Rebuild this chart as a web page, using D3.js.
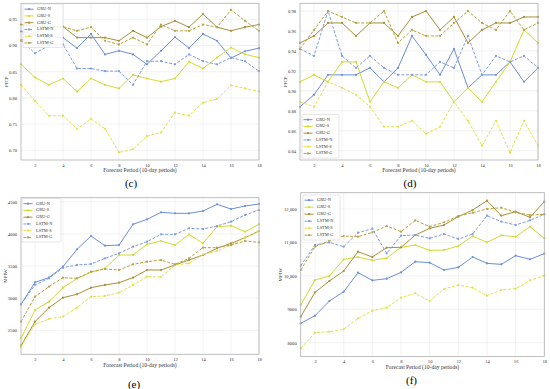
<!DOCTYPE html>
<html>
<head>
<meta charset="utf-8">
<script src="https://cdn.jsdelivr.net/npm/d3@7"></script>
<style>
  html, body { margin: 0; padding: 0; background: #fff; }
  svg { display: block; font-family: "Liberation Serif", "DejaVu Serif", serif; }
</style>
</head>
<body>
<svg id="chart" width="550" height="389"></svg>
<script>
// ---------- DATA ----------
const periods = [1,2,3,4,5,6,7,8,9,10,11,12,13,14,15,16,17,18];
const seriesNames = ["GRU-N","GRU-S","GRU-G","LSTM-N","LSTM-S","LSTM-G"];
const xTicks = [2,4,6,8,10,12,14,16,18];

// (c) PICP
const c_GRU_N  = [0.927,0.920,0.917,0.915,0.895,0.922,0.883,0.890,0.883,0.864,0.890,0.916,0.895,0.922,0.909,0.876,0.889,0.895];
const c_GRU_S  = [0.864,0.839,0.825,0.837,0.812,0.837,0.825,0.818,0.844,0.837,0.831,0.837,0.869,0.856,0.877,0.896,0.883,0.877];
const c_GRU_G  = [0.940,0.937,0.936,0.936,0.915,0.915,0.915,0.909,0.928,0.915,0.936,0.947,0.935,0.960,0.935,0.928,0.935,0.940];
const c_LSTM_N = [0.910,0.885,0.900,0.902,0.856,0.856,0.851,0.851,0.825,0.870,0.870,0.864,0.883,0.870,0.864,0.877,0.870,0.851];
const c_LSTM_S = [0.825,0.794,0.766,0.766,0.741,0.760,0.741,0.696,0.702,0.727,0.734,0.772,0.766,0.791,0.798,0.824,0.818,0.812];
const c_LSTM_G = [0.909,0.925,0.935,0.936,0.928,0.935,0.909,0.902,0.915,0.902,0.940,0.928,0.928,0.940,0.935,0.968,0.947,0.928];
const c_yTicks = [0.70,0.75,0.80,0.85,0.90,0.95];
const c_yLabels = ["0.70","0.75","0.80","0.85","0.90","0.95"];

// (d) PICP
const d_GRU_N  = [0.884,0.896,0.916,0.916,0.916,0.923,0.909,0.923,0.955,0.936,0.916,0.942,0.903,0.916,0.916,0.929,0.909,0.923];
const d_GRU_S  = [0.909,0.916,0.909,0.929,0.929,0.889,0.909,0.903,0.916,0.909,0.909,0.889,0.903,0.889,0.909,0.929,0.961,0.948];
const d_GRU_G  = [0.948,0.955,0.968,0.968,0.955,0.968,0.968,0.955,0.974,0.980,0.961,0.974,0.948,0.961,0.968,0.968,0.974,0.974];
const d_LSTM_N = [0.942,0.935,0.980,0.935,0.923,0.935,0.923,0.916,0.916,0.916,0.929,0.923,0.955,0.916,0.935,0.929,0.935,0.923];
const d_LSTM_S = [0.889,0.884,0.909,0.903,0.896,0.884,0.864,0.864,0.870,0.857,0.864,0.889,0.870,0.845,0.870,0.838,0.870,0.845];
const d_LSTM_G = [0.942,0.961,0.980,0.974,0.968,0.968,0.980,0.948,0.961,0.955,0.955,0.968,0.980,0.968,0.961,0.980,0.961,0.968];
const d_yTicks = [0.84,0.86,0.88,0.90,0.92,0.94,0.96,0.98];
const d_yLabels = ["0.84","0.86","0.88","0.90","0.92","0.94","0.96","0.98"];

// (e) MPIW
const e_GRU_N  = [2904,3246,3319,3490,3759,3966,3816,3826,4148,4225,4334,4319,4319,4355,4459,4386,4433,4464];
const e_GRU_S  = [2376,2816,2946,3163,3308,3402,3464,3671,3671,3837,3889,3826,3992,3852,4111,4127,4034,4148];
const e_GRU_G  = [2262,2635,2852,3008,3060,3163,3205,3241,3319,3438,3438,3516,3593,3671,3775,3852,3940,4044];
const e_LSTM_N = [2904,3205,3308,3474,3516,3531,3619,3697,3800,3878,3992,3992,4086,4075,4122,4189,4293,4370];
const e_LSTM_S = [2246,2593,2676,2713,2852,3023,3034,3086,3205,3334,3329,3516,3541,3681,3733,3826,3940,4044];
const e_LSTM_G = [2635,3023,3179,3319,3308,3412,3453,3438,3526,3567,3593,3526,3619,3785,3785,3826,3889,3868];
const e_yTicks = [2500,3000,3500,4000,4500];
const e_yLabels = ["2500","3000","3500","4000","4500"];

// (f) MPIW
const f_GRU_N  = [8579,8808,9247,9526,10095,9865,9915,10105,10424,10394,10175,10254,10564,10374,10344,10604,10494,10663];
const f_GRU_S  = [9127,9875,9995,10494,10564,10464,10534,10853,10923,10763,10773,10893,11192,11002,11212,11172,11471,11122];
const f_GRU_G  = [8778,9506,9845,10145,10723,10564,10843,10853,11222,11421,11521,11771,11970,12249,11800,11920,11751,12219];
const f_LSTM_N = [10304,10923,11000,10873,11292,11411,10673,11202,11222,11122,11252,11102,11252,11800,11621,11521,11661,11840];
const f_LSTM_S = [7830,8299,8329,8399,8728,8958,9047,9347,9476,9247,9606,9726,9646,9406,9576,9616,9865,10005];
const f_LSTM_G = [10175,10873,11050,11192,11172,11302,11491,11322,11661,11471,11601,11790,11890,12000,12040,11900,11820,11840];
const f_yTicks = [8000,9000,10000,11000,12000];
const f_yLabels = ["8000","9000","10,000","11,000","12,000"];

// ---------- STYLE ----------
const colors = ["#6c8fd6","#d3dc2e","#a98f38","#7d9de0","#e3e248","#b7a23e"];
const dashes = [null,null,null,"3,1.6","3,1.6","3,1.6"];

const panels = [
  { id:"c", series:[c_GRU_N,c_GRU_S,c_GRU_G,c_LSTM_N,c_LSTM_S,c_LSTM_G], yDomain:[0.6815,0.9805],
    yTicks:c_yTicks, yLabels:c_yLabels, yTitle:"PICP",
    box:{l:21,r:259,t:3.3,b:160}, legend:{x:23,y:4,w:40,h:43.5}, tag:{x:131,y:187}, yTitleX:7 },
  { id:"d", series:[d_GRU_N,d_GRU_S,d_GRU_G,d_LSTM_N,d_LSTM_S,d_LSTM_G], yDomain:[0.8307,0.9877],
    yTicks:d_yTicks, yLabels:d_yLabels, yTitle:"PICP",
    box:{l:300,r:538,t:3.3,b:160}, legend:{x:302,y:114.5,w:37,h:43.5}, tag:{x:410,y:187}, yTitleX:286 },
  { id:"e", series:[e_GRU_N,e_GRU_S,e_GRU_G,e_LSTM_N,e_LSTM_S,e_LSTM_G], yDomain:[2127,4562],
    yTicks:e_yTicks, yLabels:e_yLabels, yTitle:"MPIW",
    box:{l:21,r:259,t:197.7,b:354.3}, legend:{x:22,y:198.5,w:39,h:43.5}, tag:{x:134,y:388}, yTitleX:6 },
  { id:"f", series:[f_GRU_N,f_GRU_S,f_GRU_G,f_LSTM_N,f_LSTM_S,f_LSTM_G], yDomain:[7587,12488],
    yTicks:f_yTicks, yLabels:f_yLabels, yTitle:"MPIW",
    box:{l:300.7,r:544.3,t:192.7,b:356.5}, legend:{x:303,y:195,w:37,h:45}, tag:{x:411.5,y:384}, yTitleX:281 }
];

const svg = d3.select("#chart");
svg.append("rect").attr("width",550).attr("height",389).attr("fill","#fff");

panels.forEach(p => {
  const B = p.box;
  const x = d3.scaleLinear().domain([1,18]).range([B.l,B.r]);
  const y = d3.scaleLinear().domain(p.yDomain).range([B.b,B.t]);
  const g = svg.append("g");

  // grid
  g.selectAll(".gx").data(xTicks).join("line")
    .attr("x1",d=>x(d)).attr("x2",d=>x(d)).attr("y1",B.t).attr("y2",B.b)
    .attr("stroke","#e4e4e4").attr("stroke-width",0.5);
  g.selectAll(".gy").data(p.yTicks).join("line")
    .attr("x1",B.l).attr("x2",B.r).attr("y1",d=>y(d)).attr("y2",d=>y(d))
    .attr("stroke","#e4e4e4").attr("stroke-width",0.5);

  // axes
  const ax = g.append("g").attr("transform",`translate(0,${B.b})`)
    .call(d3.axisBottom(x).tickValues(xTicks).tickSize(0).tickPadding(3.5).tickFormat(d3.format("d")));
  const ay = g.append("g").attr("transform",`translate(${B.l},0)`)
    .call(d3.axisLeft(y).tickValues(p.yTicks).tickSize(0).tickPadding(4).tickFormat((d,i)=>p.yLabels[i]));
  [ax,ay].forEach(a => {
    a.select(".domain").remove();
    a.selectAll("text").attr("font-family","Liberation Serif, serif").attr("font-size",4.6).attr("fill","#333");
  });

  // lines
  const line = d3.line().x((d,i)=>x(periods[i])).y(d=>y(d));
  p.series.forEach((s,k) => {
    g.append("path").datum(s).attr("d",line).attr("fill","none")
      .attr("stroke",colors[k]).attr("stroke-width",1)
      .attr("stroke-dasharray",dashes[k]);
    g.selectAll(null).data(s).join("circle")
      .attr("cx",(d,i)=>x(periods[i])).attr("cy",d=>y(d)).attr("r",1.1)
      .attr("fill",colors[k]);
  });

  // frame
  g.append("rect").attr("x",B.l).attr("y",B.t).attr("width",B.r-B.l).attr("height",B.b-B.t)
    .attr("fill","none").attr("stroke","#b0b0b0").attr("stroke-width",0.8);

  // axis titles
  g.append("text").attr("x",(B.l+B.r)/2).attr("y",B.b+12.3).attr("text-anchor","middle")
    .attr("font-size",5.6).attr("fill","#333").text("Forecast Period (10-day periods)");
  g.append("text").attr("transform",`translate(${p.yTitleX},${(B.t+B.b)/2}) rotate(-90)`)
    .attr("text-anchor","middle").attr("dominant-baseline","middle")
    .attr("font-size",5).attr("fill","#333").text(p.yTitle);

  // legend
  const L = p.legend;
  const lg = g.append("g");
  lg.append("rect").attr("x",L.x).attr("y",L.y).attr("width",L.w).attr("height",L.h)
    .attr("fill","#fff").attr("fill-opacity",0.85).attr("stroke","#cfcfcf").attr("stroke-width",0.5).attr("rx",1);
  const step = (L.h - 3) / 6;
  seriesNames.forEach((name,k) => {
    const cy = L.y + 5.2 + step*k;
    lg.append("line").attr("x1",L.x+1.5).attr("x2",L.x+10.5).attr("y1",cy).attr("y2",cy)
      .attr("stroke",colors[k]).attr("stroke-width",1).attr("stroke-dasharray",dashes[k]);
    lg.append("circle").attr("cx",L.x+6).attr("cy",cy).attr("r",1.1).attr("fill",colors[k]);
    lg.append("text").attr("x",L.x+14).attr("y",cy).attr("dominant-baseline","middle")
      .attr("font-size",4.4).attr("fill","#333").text(name);
  });

  // panel tag
  g.append("text").attr("x",p.tag.x).attr("y",p.tag.y).attr("text-anchor","middle")
    .attr("font-size",11).attr("fill","#000").text(`(${p.id})`);
});
</script>
</body>
</html>
